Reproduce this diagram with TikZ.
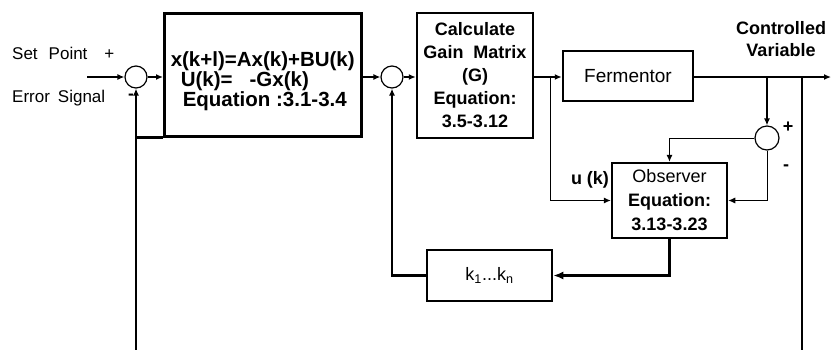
\documentclass[tikz,border=0pt]{standalone}
\usepackage{fontspec}
\setmainfont{Liberation Sans}
\usetikzlibrary{arrows.meta}

\begin{document}
\begin{tikzpicture}[x=1pt, y=-1pt, >={Latex[length=7pt,width=6pt]},
  block/.style={rectangle, draw=black, line width=2.5pt, align=center, inner sep=0pt, font=\fontsize{18}{23}\selectfont},
  summer/.style={circle, draw=black, line width=1.2pt, minimum size=22pt, inner sep=0pt},
  arrow/.style={draw=black, ->, line width=1.3pt},
  thinarrow/.style={draw=black, ->, line width=0.9pt},
  fbline/.style={draw=black, ->, line width=2.3pt},
  lbl/.style={font=\fontsize{17}{20}\selectfont, inner sep=0pt},
  boldlbl/.style={font=\bfseries\fontsize{18}{22}\selectfont, inner sep=0pt, align=center}]
  \useasboundingbox (0,0) rectangle (831,349);
  \clip (0,0) rectangle (831,349);

  % blocks
  \node [summer] (sum1) at (136,77) {};
  \node [block, anchor=north west, align=left, minimum width=197pt, minimum height=123pt,
    font=\bfseries\fontsize{20.5}{20}\selectfont] (model) at (163,12)
    {\rule{0pt}{28pt}x(k+l)=Ax(k)+BU(k)\\ \hspace*{10pt}U(k)=\ \ \ -Gx(k)\\ \hspace*{12pt}Equation :3.1-3.4};
  \node [summer] (sum2) at (392,77) {};
  \node [block, font=\bfseries\fontsize{18}{23}\selectfont, minimum width=116pt, minimum height=125pt] (gain) at (475,75.5)
    {Calculate\\Gain\ \ Matrix\\(G)\\Equation:\\3.5-3.12};
  \node [block, font=\fontsize{19}{23}\selectfont, minimum width=130pt, minimum height=50pt] (ferm) at (628,76) {Fermentor};
  \node [summer, minimum size=24pt] (sum3) at (767,138) {};
  \node [block, font=\fontsize{18}{24}\selectfont, minimum width=115pt, minimum height=75pt] (obs) at (669.5,200.5)
    {Observer\\\textbf{Equation:}\\\textbf{3.13-3.23}};
  \node [block, minimum width=125pt, minimum height=51pt] (gains) at (489.5,275.5) {k\textsubscript{1}...k\textsubscript{n}};

  % free ends of the connectors
  \coordinate (setpt) at (87,77);
  \coordinate (branch) at (550,77);
  \coordinate (tap) at (767,77);
  \coordinate (fbtap) at (802,77);
  \coordinate (out) at (831,77);
  \coordinate (fbbot) at (0,360);

  % labels
  \node [lbl, anchor=west] (setlbl) at (12,53) {Set\hspace{11pt}Point\hspace{17pt}+};
  \node [lbl, anchor=west] (errlbl) at (12,98) {Error\hspace{8pt}Signal};
  \node [lbl] (minus1) at (131,97) {\textbf{-}};
  \node [boldlbl] (plus3) at (788,127) {+};
  \node [boldlbl] (minus3) at (786,168) {-};
  \node [boldlbl] (cvlbl) at (781,39) {Controlled\\Variable};
  \node [boldlbl] (uklbl) at (590,180) {u (k)};

  % connectors
  \draw [arrow] (setpt) -- (sum1);
  \draw [arrow] (sum1) -- (sum1 -| model.west);
  \draw [arrow] (model.east |- sum2) -- (sum2);
  \draw [arrow] (sum2) -- (sum2 -| gain.west);
  \draw [arrow] (gain.east |- sum2) -- (sum2 -| ferm.west);
  \draw [arrow] (sum2 -| ferm.east) -- (out);
  \draw [arrow] (tap) -- (sum3);
  \draw [thinarrow] (branch) |- (obs);
  \draw [thinarrow] (sum3) -| (obs);
  \draw [thinarrow] (sum3) |- (obs);
  \draw [fbline, >={Latex[length=10pt,width=8pt]}] (obs) |- (gains);
  \draw [fbline] (gains) -| (sum2);
  \draw [fbline, line width=2.6pt] (fbtap) -- (fbtap |- fbbot) -| (sum1);
  \draw [line width=2.5pt] (model.south west) -- (model.south west -| sum1);
\end{tikzpicture}
\end{document}
